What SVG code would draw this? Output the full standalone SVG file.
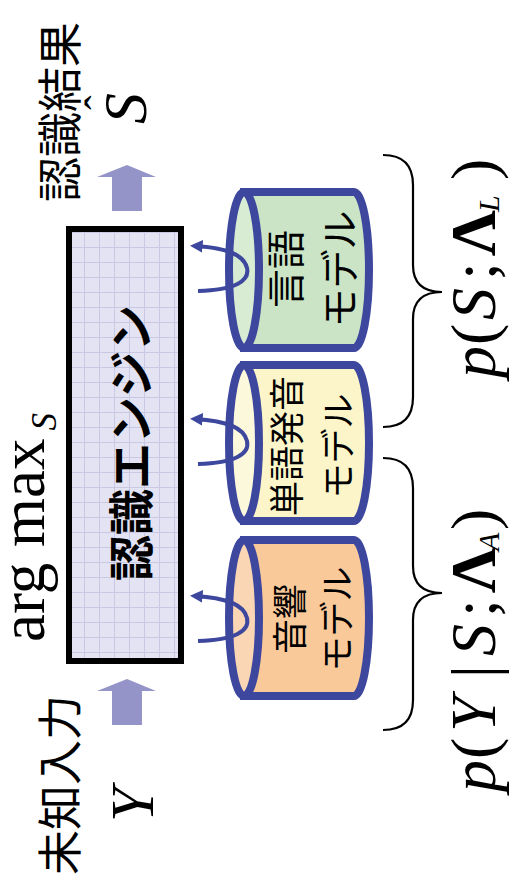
<svg xmlns="http://www.w3.org/2000/svg" width="511" height="894" viewBox="0 0 511 894">
<defs>
<pattern id="grid" patternUnits="userSpaceOnUse" x="84" y="247" width="15" height="15">
<rect width="15" height="15" fill="#e3e3f3"/>
<path d="M0.5,0V15M0,0.5H15" stroke="#c8c8e2" stroke-width="1" fill="none"/>
</pattern>
<marker id="ah" viewBox="0 0 10 10" refX="6" refY="5" markerWidth="3.2" markerHeight="3.2" orient="auto">
<path d="M0,0L10,5L0,10Z" fill="#3d479e"/>
</marker>
<style>
.cjk{font-family:"Noto Sans CJK JP","Noto Sans CJK SC",sans-serif;}
.ser{font-family:"Liberation Serif","Times New Roman",serif;}
.cyl{stroke:#3d479e;stroke-width:8;}
.loop{fill:none;stroke:#3d479e;stroke-width:4;marker-end:url(#ah);}
.brace{fill:none;stroke:#000;stroke-width:2.2;}
.fat{fill:#9494c8;}
</style>
</defs>

<g id="labels">
<text class="cjk" font-size="45" dominant-baseline="central" text-anchor="middle" transform="translate(57,112) rotate(-90)">認識結果</text>
<text class="ser" font-size="62" font-style="italic" transform="translate(146,124) rotate(-90)">S</text>
<text class="ser" font-size="44" transform="translate(115,110) rotate(-90)">ˆ</text>
<text class="cjk" font-size="45" dominant-baseline="central" text-anchor="middle" transform="translate(57,785) rotate(-90)">未知入力</text>
<text class="ser" font-size="62" font-style="italic" transform="translate(153,822) rotate(-90)">Y</text>
<text class="ser" font-size="63" transform="translate(44,642) rotate(-90)">arg max<tspan font-size="35" font-style="italic" dx="8" dy="12">S</tspan></text>
</g>

<g id="engine">
<rect x="69" y="229" width="112" height="432" fill="url(#grid)" stroke="#000" stroke-width="6"/>
<text class="cjk" font-size="46" font-weight="700" dominant-baseline="central" text-anchor="middle" transform="translate(128,443) rotate(-90)">認識エンジン</text>
</g>

<g id="connectors">
<path class="fat" d="M127,165L156,177H142V211H112V177H97Z"/>
<path class="fat" d="M127,679L156,691H142V725H112V691H97Z"/>
</g>

<g id="lm">
<path class="cyl" fill="#cae4c5" d="M244,192H354A15,78 0 0 1 354,348H244Z"/>
<ellipse class="cyl" cx="244" cy="270" rx="15" ry="78" fill="#d8ecd4"/>
<text class="cjk" font-size="39" dominant-baseline="central" text-anchor="middle" transform="translate(283,269) rotate(-90)">言語</text>
<text class="cjk" font-size="39" dominant-baseline="central" text-anchor="middle" transform="translate(337,269) rotate(-90)">モデル</text>
<path class="loop" d="M198,291C235,290 250,281 247,268C244,255 228,248 195,246"/>
</g>

<g id="pm">
<path class="cyl" fill="#fbf5c9" d="M244,365H354A15,78 0 0 1 354,521H244Z"/>
<ellipse class="cyl" cx="244" cy="443" rx="15" ry="78" fill="#fcf8dc"/>
<text class="cjk" font-size="35" dominant-baseline="central" text-anchor="middle" transform="translate(284,446) rotate(-90)">単語発音</text>
<text class="cjk" font-size="35" dominant-baseline="central" text-anchor="middle" transform="translate(335,446) rotate(-90)">モデル</text>
<path class="loop" d="M198,464C235,463 250,454 247,441C244,428 228,421 195,419"/>
</g>

<g id="am">
<path class="cyl" fill="#f9c99a" d="M244,540H354A15,78 0 0 1 354,696H244Z"/>
<ellipse class="cyl" cx="244" cy="618" rx="15" ry="78" fill="#fbd6b4"/>
<text class="cjk" font-size="35" dominant-baseline="central" text-anchor="middle" transform="translate(287,619) rotate(-90)">音響</text>
<text class="cjk" font-size="35" dominant-baseline="central" text-anchor="middle" transform="translate(334,619) rotate(-90)">モデル</text>
<path class="loop" d="M198,641C235,640 250,631 247,618C244,605 228,598 195,596"/>
</g>

<g id="braces">
<path class="brace" d="M383,155Q413,155 413,185L413,265Q413,292 442,292Q413,292 413,319L413,397Q413,427 383,427"/>
<path class="brace" d="M383,458Q413,458 413,488L413,566Q413,593 442,593Q413,593 413,620L413,700Q413,730 383,730"/>
</g>

<g id="formulas">
<text class="ser" font-size="64" transform="translate(495,378) rotate(-90)"><tspan font-style="italic">p</tspan><tspan x="33">(</tspan><tspan x="58" font-style="italic">S</tspan><tspan x="98">;</tspan><tspan x="122" font-weight="700">Λ</tspan><tspan x="166" font-size="30" font-style="italic" dy="4">L</tspan><tspan x="198" dy="-4">)</tspan></text>
<text class="ser" font-size="64" transform="translate(495,792) rotate(-90)"><tspan font-style="italic">p</tspan><tspan x="33">(</tspan><tspan x="60" font-style="italic">Y</tspan><tspan x="114">|</tspan><tspan x="136" font-style="italic">S</tspan><tspan x="175">;</tspan><tspan x="199" font-weight="700">Λ</tspan><tspan x="241" font-size="30" font-style="italic" dy="4">A</tspan><tspan x="262" dy="-4">)</tspan></text>
</g>
</svg>
